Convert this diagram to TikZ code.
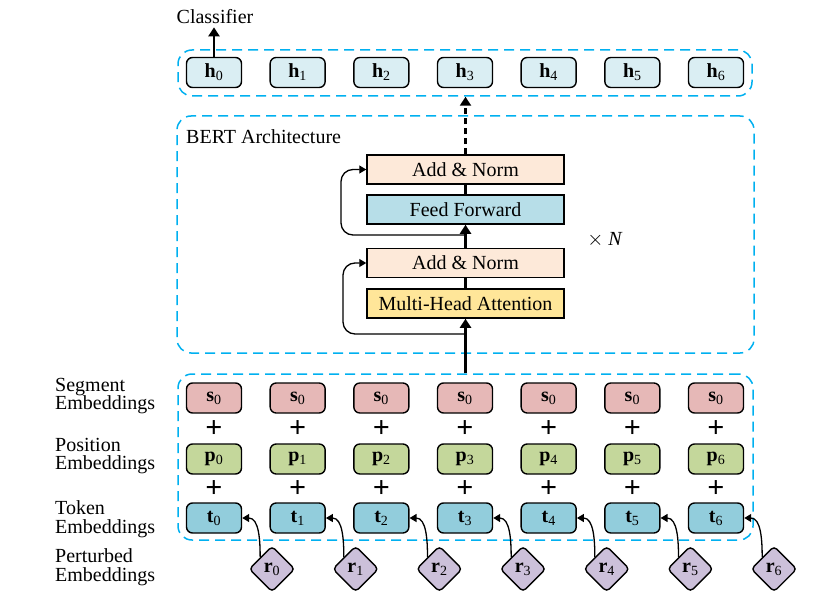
\documentclass[tikz,border=0pt]{standalone}
\usepackage{fontspec}
\setmainfont{Liberation Serif}
\usetikzlibrary{shapes.geometric,arrows.meta}
\definecolor{hcol}{HTML}{DAEEF3}
\definecolor{scol}{HTML}{E6B8B7}
\definecolor{pcol}{HTML}{C4D79B}
\definecolor{tcol}{HTML}{92CDDC}
\definecolor{rcol}{HTML}{CCC0DA}
\definecolor{ancol}{HTML}{FDE9D9}
\definecolor{ffcol}{HTML}{B7DEE8}
\definecolor{mhcol}{HTML}{FFE699}
\definecolor{dblue}{HTML}{00B0F0}
\begin{document}
\begin{tikzpicture}[x=1pt,y=-1pt,
  every node/.style={font=\fontsize{20}{20}\selectfont, inner sep=0pt},
  tok/.style={draw, rounded corners=6pt, line width=1.4pt, minimum width=55pt, minimum height=30pt},
  layer/.style={draw, line width=1.5pt, minimum width=197pt, minimum height=29pt},
  dbox/.style={draw=dblue, dash pattern=on 10pt off 6pt, line width=1.5pt, rounded corners=14pt},
  rdia/.style={draw, diamond, aspect=1, rounded corners=4pt, fill=rcol, line width=1.4pt, minimum size=46pt},
  plus/.style={font=\fontsize{30}{30}\selectfont\bfseries},
  lab/.style={align=left, anchor=west, font=\fontsize{20}{18.5}\selectfont},
  arr/.style={-{Triangle[length=9pt,width=11pt]}, line width=2.2pt},
  thin/.style={-{Triangle[length=7pt,width=8pt]}, line width=1.3pt, rounded corners=12pt}
]
\useasboundingbox (0,0) rectangle (837,604);
% dashed boxes
\node[dbox, minimum width=574pt, minimum height=46pt] (topbox) at (465,73) {};
\node[dbox, minimum width=577pt, minimum height=237pt] (bertbox) at (465.5,234.5) {};
\node[dbox, minimum width=575pt, minimum height=166pt] (embbox) at (465.5,457) {};
\node[anchor=west] (berttxt) at (186,137) {BERT Architecture};
% tokens
\foreach \i in {0,...,6}{
  \pgfmathsetmacro{\x}{214+83.67*\i}
  \node[tok, fill=hcol] (h\i) at (\x,72.5) {\textbf{h}\textsubscript{\i}};
  \node[tok, fill=scol] (s\i) at (\x,398) {\textbf{s}\textsubscript{0}};
  \node[plus] (pa\i) at (\x,429) {+};
  \node[tok, fill=pcol] (p\i) at (\x,459) {\textbf{p}\textsubscript{\i}};
  \node[plus] (pb\i) at (\x,489) {+};
  \node[tok, fill=tcol] (t\i) at (\x,518) {\textbf{t}\textsubscript{\i}};
  \node[rdia] (r\i) at (\x+58,569) {\textbf{r}\textsubscript{\i}};
  \draw[thin] (r\i.north west) to[out=90,in=0] (t\i.east);
}
% layers
\node[layer, fill=ancol] (an1) at (465.5,169.5) {Add \& Norm};
\node[layer, fill=ffcol] (ff) at (465.5,209.5) {Feed Forward};
\node[layer, fill=ancol] (an2) at (465.5,263) {Add \& Norm};
\node[layer, fill=mhcol] (mh) at (465.5,303.5) {Multi-Head Attention};
\node (xn) at (605,240) {$\times$ \textit{N}};
% labels
\node (cls) at (215,17) {Classifier};
\node[lab] (lseg) at (55,396) {Segment\\Embeddings};
\node[lab] (lpos) at (55,456) {Position\\Embeddings};
\node[lab] (ltok) at (55,519) {Token\\Embeddings};
\node[lab] (lper) at (55,567) {Perturbed\\Embeddings};
% connectors
\coordinate (emtop) at (embbox.north -| mh.south);
\coordinate (clsb) at ([yshift=-3pt]cls.south -| h0.north);
\draw[arr] (h0.north) -- (clsb);
\draw[arr] (emtop) -- (mh.south);
\draw[line width=2.2pt] (mh.north) -- (an2.south);
\draw[arr] (an2.north) -- (ff.south);
\draw[line width=2.2pt] (ff.north) -- (an1.south);
\draw[arr, dash pattern=on 6pt off 4pt] (an1.north) -- (topbox.south -| an1.north);
\coordinate (res1) at (466,334);
\coordinate (res2) at (466,235);
\draw[thin] (res1) -- (343,334) -- (343,263) -- (an2.west);
\draw[thin] (res2) -- (341,235) -- (341,169.5) -- (an1.west);
\end{tikzpicture}
\end{document}
